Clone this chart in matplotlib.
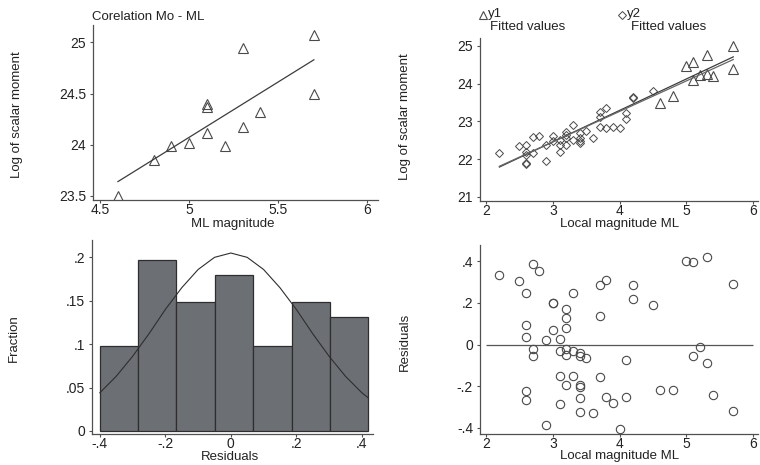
import numpy as np
import matplotlib
matplotlib.use('Agg')
import matplotlib.pyplot as plt
from matplotlib.lines import Line2D

plt.rcParams['font.family'] = ['Liberation Sans', 'DejaVu Sans']

# top left: Mo vs ML
tl_ml = [4.6, 4.8, 4.9, 5.0, 5.1, 5.1, 5.1, 5.2, 5.3, 5.3, 5.4, 5.7, 5.7]
tl_mo = [23.50, 23.85, 23.99, 24.02, 24.11, 24.37, 24.40, 23.99, 24.17, 24.95, 24.32, 25.07, 24.50]
tl_fit_x = [4.6, 5.7]
tl_fit_y = [23.64, 24.83]

# top right: y1 (triangles) and y2 (diamonds)
y1_ml = [4.6, 4.8, 5.0, 5.1, 5.1, 5.2, 5.3, 5.3, 5.4, 5.7, 5.7]
y1_mo = [23.49, 23.68, 24.47, 24.57, 24.09, 24.24, 24.77, 24.26, 24.19, 25.01, 24.40]
y2_ml = [2.2, 2.5, 2.6, 2.6, 2.6, 2.6, 2.6, 2.7, 2.7, 2.8, 2.9, 2.9, 3.0, 3.0,
         3.1, 3.1, 3.1, 3.2, 3.2, 3.2, 3.2, 3.3, 3.3, 3.4, 3.4, 3.4, 3.4, 3.5,
         3.6, 3.7, 3.7, 3.7, 3.8, 3.8, 3.9, 4.0, 4.1, 4.1, 4.2, 4.2, 4.5]
y2_mo = [22.16, 22.34, 22.37, 22.18, 22.12, 21.87, 21.89, 22.58, 22.15, 22.61, 22.38, 21.96, 22.61, 22.49,
         22.50, 22.38, 22.20, 22.73, 22.64, 22.55, 22.38, 22.91, 22.50, 22.68, 22.56, 22.49, 22.42, 22.75,
         22.57, 23.26, 23.12, 22.84, 23.36, 22.82, 22.84, 22.82, 23.23, 23.06, 23.65, 23.61, 23.81]
fit_x = [2.2, 5.7]
fit1_y = [21.79, 24.71]
fit2_y = [21.81, 24.64]

# bottom left: histogram of residuals
hist_edges = [-0.400, -0.283, -0.166, -0.049, 0.069, 0.186, 0.303, 0.420]
hist_frac = [0.098, 0.197, 0.148, 0.180, 0.098, 0.148, 0.131]
norm_x = [-0.40, -0.35, -0.30, -0.25, -0.20, -0.15, -0.10, -0.05, 0.00,
          0.05, 0.10, 0.15, 0.20, 0.25, 0.30, 0.35, 0.40, 0.42]
norm_y = [0.044, 0.063, 0.086, 0.112, 0.140, 0.165, 0.186, 0.200, 0.205,
          0.200, 0.186, 0.165, 0.140, 0.112, 0.086, 0.063, 0.044, 0.038]

# bottom right: residuals vs ML
res_ml = [2.2, 2.5, 2.6, 2.7, 2.8, 2.6, 2.6, 2.7, 2.7, 2.6, 2.6, 2.9, 2.9,
          3.0, 3.0, 3.0, 3.1, 3.1, 3.1, 3.1, 3.2, 3.2, 3.2, 3.2, 3.2, 3.2,
          3.3, 3.3, 3.3, 3.4, 3.4, 3.4, 3.4, 3.4, 3.4, 3.5, 3.6, 3.7, 3.7, 3.7,
          3.8, 3.8, 3.9, 4.0, 4.1, 4.1, 4.2, 4.2, 4.5, 4.6, 4.8, 5.0, 5.1, 5.1,
          5.2, 5.3, 5.3, 5.4, 5.7, 5.7]
res_val = [0.335, 0.306, 0.248, 0.386, 0.350, 0.094, 0.038, -0.021, -0.056, -0.222, -0.266, 0.022, -0.384,
           0.200, 0.197, 0.070, 0.024, -0.032, -0.152, -0.286, 0.168, 0.128, 0.078, -0.021, -0.048, -0.192,
           0.248, -0.032, -0.152, -0.042, -0.056, -0.192, -0.202, -0.258, -0.325, -0.064, -0.330, 0.283, 0.138, -0.158,
           0.307, -0.253, -0.280, -0.406, -0.074, -0.250, 0.283, 0.218, 0.189, -0.218, -0.218, 0.400, 0.397, -0.056,
           -0.013, 0.421, -0.088, -0.243, 0.288, -0.320]

W, H = 760, 465
EDGE = '#4a4a4a'
LINE = '#3c3c3c'


def px_axes(fig, x0, y0, x1, y1):
    return fig.add_axes([x0 / W, 1 - y1 / H, (x1 - x0) / W, (y1 - y0) / H])


def style(ax):
    for s in ['top', 'right']:
        ax.spines[s].set_visible(False)
    for s in ['left', 'bottom']:
        ax.spines[s].set_color('#505050')
        ax.spines[s].set_linewidth(0.9)
    ax.tick_params(direction='out', length=2.5, width=0.8, color='#505050',
                   labelsize=10, labelcolor='#222222')
    ax.tick_params(axis='x', pad=-0.5)
    ax.tick_params(axis='y', pad=2.5)


def fig_text(x, y, s, **kw):
    kw.setdefault('fontsize', 9.5)
    kw.setdefault('color', '#222222')
    plt.gcf().text(x / W, 1 - y / H, s, **kw)


fig = plt.figure(figsize=(7.6, 4.65), dpi=100)

# top left
ax = px_axes(fig, 93, 25, 378, 200)
style(ax)
ax.plot(tl_ml, tl_mo, linestyle='none', marker='^', markersize=7, markerfacecolor='none',
        markeredgecolor=EDGE, markeredgewidth=0.8)
ax.plot(tl_fit_x, tl_fit_y, color=LINE, linewidth=0.9)
ax.set_xlim(4.46, 6.06)
ax.set_ylim(23.46, 25.17)
ax.set_xticks([4.5, 5, 5.5, 6])
ax.set_xticklabels(['4.5', '5', '5.5', '6'])
ax.set_yticks([23.5, 24, 24.5, 25])
ax.set_yticklabels(['23.5', '24', '24.5', '25'])
fig_text(92, 17, 'Corelation Mo - ML', ha='left', va='center')
fig_text(233, 224, 'ML magnitude', ha='center', va='center')
fig_text(17, 115, 'Log of scalar moment', ha='center', va='center', rotation=90)

# top right
ax = px_axes(fig, 480, 38, 758, 201)
style(ax)
ax.plot(y1_ml, y1_mo, linestyle='none', marker='^', markersize=6.5, markerfacecolor='none',
        markeredgecolor=EDGE, markeredgewidth=0.8)
ax.plot(y2_ml, y2_mo, linestyle='none', marker='D', markersize=3.6, markerfacecolor='none',
        markeredgecolor=EDGE, markeredgewidth=0.7)
ax.plot(fit_x, fit1_y, color=LINE, linewidth=0.9)
ax.plot(fit_x, fit2_y, color='#666666', linewidth=0.9)
ax.set_xlim(1.91, 6.07)
ax.set_ylim(20.89, 25.21)
ax.set_xticks([2, 3, 4, 5, 6])
ax.set_yticks([21, 22, 23, 24, 25])
fig_text(620, 224, 'Local magnitude ML', ha='center', va='center')
fig_text(405, 117, 'Log of scalar moment', ha='center', va='center', rotation=90)

# legend above top right
fig.add_artist(Line2D([483 / W], [1 - 15 / H], linestyle='none', marker='^', markersize=6,
                      markerfacecolor='none', markeredgecolor=EDGE, markeredgewidth=0.8))
fig.add_artist(Line2D([622 / W], [1 - 15 / H], linestyle='none', marker='D', markersize=3.6,
                      markerfacecolor='none', markeredgecolor=EDGE, markeredgewidth=0.7))
fig_text(488, 14, 'y1', ha='left', va='center')
fig_text(490, 27, 'Fitted values', ha='left', va='center')
fig_text(627, 14, 'y2', ha='left', va='center')
fig_text(631, 27, 'Fitted values', ha='left', va='center')

# bottom left
ax = px_axes(fig, 92, 240, 373, 434)
style(ax)
lefts = hist_edges[:-1]
widths = np.diff(hist_edges)
ax.bar(lefts, hist_frac, width=widths, align='edge', color='#6c7075',
       edgecolor='#2e2e2e', linewidth=0.9)
ax.plot(norm_x, norm_y, color='#2e2e2e', linewidth=0.8)
ax.set_xlim(-0.424, 0.434)
ax.set_ylim(-0.0035, 0.22)
ax.set_xticks([-0.4, -0.2, 0, 0.2, 0.4])
ax.set_xticklabels(['-.4', '-.2', '0', '.2', '.4'])
ax.set_yticks([0, 0.05, 0.1, 0.15, 0.2])
ax.set_yticklabels(['0', '.05', '.1', '.15', '.2'])
fig_text(230, 457, 'Residuals', ha='center', va='center')
fig_text(14, 338, 'Fraction', ha='center', va='center', rotation=90)

# bottom right
ax = px_axes(fig, 480, 245, 758, 434)
style(ax)
ax.hlines(0, 2, 6, color='#555555', linewidth=0.9)
ax.plot(res_ml, res_val, linestyle='none', marker='o', markersize=6, markerfacecolor='none',
        markeredgecolor=EDGE, markeredgewidth=0.8)
ax.set_xlim(1.91, 6.07)
ax.set_ylim(-0.429, 0.477)
ax.set_xticks([2, 3, 4, 5, 6])
ax.set_yticks([-0.4, -0.2, 0, 0.2, 0.4])
ax.set_yticklabels(['-.4', '-.2', '0', '.2', '.4'])
fig_text(620, 456, 'Local magnitude ML', ha='center', va='center')
fig_text(405, 342, 'Residuals', ha='center', va='center', rotation=90)

fig.savefig('out.png', dpi=100)
